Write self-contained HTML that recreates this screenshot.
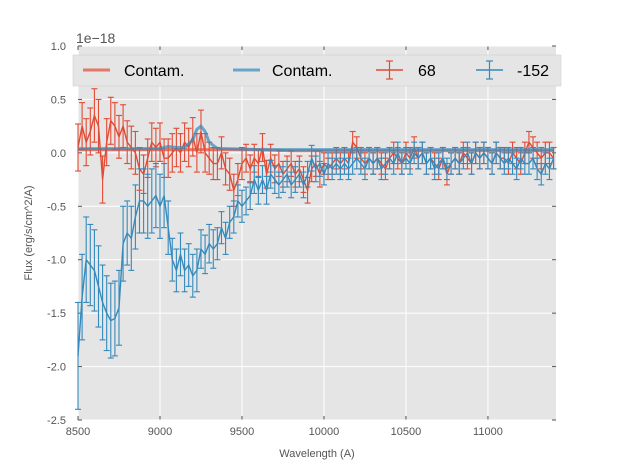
<!DOCTYPE html>
<html><head><meta charset="utf-8"><style>
body{margin:0;background:#fff;font-family:"Liberation Sans","DejaVu Sans",sans-serif}
</style></head><body>
<svg id="c" width="617" height="467" xmlns="http://www.w3.org/2000/svg" font-family="Liberation Sans, DejaVu Sans, sans-serif"></svg>
<script>
const blueVals=[-1.9,-1.35,-1.0,-1.05,-1.1,-1.25,-1.4,-1.5,-1.57,-1.55,-1.45,-0.85,-0.75,-0.8,-0.6,-0.45,-0.45,-0.5,-0.45,-0.4,-0.5,-0.4,-0.7,-1.0,-1.1,-0.95,-1.1,-1.05,-1.15,-1.1,-0.9,-0.95,-0.85,-0.9,-0.85,-0.7,-0.8,-0.65,-0.6,-0.45,-0.5,-0.45,-0.4,-0.25,-0.35,-0.25,-0.35,-0.2,-0.25,-0.3,-0.25,-0.2,-0.3,-0.25,-0.2,-0.3,-0.2,-0.05,-0.15,-0.1,-0.2,-0.1,-0.15,-0.1,-0.15,-0.1,-0.15,-0.1,-0.05,-0.1,-0.15,-0.05,-0.1,-0.05,-0.15,-0.1,-0.05,-0.1,0.0,-0.1,-0.05,-0.1,0.0,-0.05,0.0,-0.1,-0.05,-0.15,-0.1,-0.05,-0.15,-0.1,-0.05,-0.1,-0.05,0.0,-0.1,0.0,-0.05,0.0,-0.05,-0.1,0.0,-0.05,-0.1,-0.05,-0.1,-0.15,-0.05,-0.1,-0.1,-0.05,-0.15,-0.2,-0.1,-0.15,-0.05];
const blueErr=[0.5,0.4,0.4,0.38,0.38,0.38,0.35,0.35,0.35,0.35,0.35,0.35,0.3,0.3,0.3,0.3,0.3,0.3,0.3,0.3,0.3,0.3,0.25,0.2,0.2,0.2,0.2,0.2,0.2,0.2,0.18,0.18,0.18,0.18,0.15,0.15,0.15,0.15,0.15,0.15,0.15,0.13,0.13,0.13,0.13,0.13,0.13,0.13,0.13,0.12,0.12,0.12,0.12,0.12,0.12,0.12,0.12,0.12,0.12,0.12,0.1,0.1,0.1,0.1,0.1,0.1,0.1,0.1,0.1,0.1,0.1,0.1,0.1,0.1,0.1,0.1,0.1,0.1,0.1,0.1,0.1,0.1,0.1,0.1,0.1,0.1,0.1,0.1,0.1,0.1,0.1,0.1,0.1,0.1,0.1,0.1,0.1,0.1,0.1,0.1,0.1,0.1,0.1,0.1,0.1,0.1,0.1,0.1,0.1,0.1,0.1,0.1,0.1,0.1,0.1,0.1,0.1];
const redVals=[0.05,0.25,0.1,0.2,0.35,0.25,-0.25,0.1,0.3,0.25,0.15,0.25,0.1,0.05,0.0,-0.15,-0.2,-0.05,0.1,0.05,0.1,-0.05,-0.05,0.0,0.05,0.0,0.1,0.05,0.15,0.0,0.2,0.0,-0.05,-0.1,-0.1,0.0,-0.15,-0.2,-0.35,-0.25,-0.1,-0.05,-0.15,-0.05,-0.1,0.05,-0.2,-0.05,-0.15,-0.1,-0.2,-0.15,-0.1,-0.2,-0.15,-0.25,-0.35,-0.15,-0.1,-0.2,-0.1,-0.15,-0.1,-0.05,-0.1,-0.05,-0.1,0.1,0.05,-0.05,-0.1,-0.05,-0.1,-0.05,-0.1,-0.15,-0.05,0.0,-0.05,-0.1,0.0,-0.05,0.05,-0.05,0.0,-0.1,-0.05,-0.1,-0.15,-0.05,-0.2,-0.1,-0.05,-0.1,0.0,-0.05,-0.1,0.0,-0.05,0.0,-0.05,-0.1,0.0,-0.05,-0.05,-0.1,0.0,-0.05,-0.1,0.0,0.1,0.05,0.0,-0.05,0.0,0.0,-0.05];
const redErr=[0.22,0.22,0.22,0.22,0.25,0.25,0.22,0.22,0.22,0.22,0.2,0.2,0.2,0.2,0.2,0.2,0.18,0.18,0.18,0.18,0.18,0.18,0.18,0.18,0.18,0.18,0.18,0.18,0.18,0.18,0.2,0.18,0.15,0.15,0.15,0.15,0.15,0.15,0.15,0.15,0.15,0.13,0.13,0.13,0.13,0.13,0.13,0.13,0.13,0.12,0.12,0.12,0.12,0.12,0.12,0.12,0.12,0.12,0.12,0.12,0.1,0.1,0.1,0.1,0.1,0.1,0.1,0.1,0.1,0.1,0.1,0.1,0.1,0.1,0.1,0.1,0.1,0.1,0.1,0.1,0.1,0.1,0.1,0.1,0.1,0.1,0.1,0.1,0.1,0.1,0.1,0.1,0.1,0.1,0.1,0.1,0.1,0.1,0.1,0.1,0.1,0.1,0.1,0.1,0.1,0.1,0.1,0.1,0.1,0.1,0.1,0.1,0.1,0.1,0.1,0.1,0.1];
const contWave=[8500,8600,8700,8800,8900,9000,9050,9100,9150,9200,9225,9250,9275,9300,9350,9400,9600,9800,10000,10500,11000,11400];
const contRed=[0.03,0.03,0.03,0.03,0.03,0.03,0.03,0.03,0.03,0.03,0.03,0.03,0.03,0.03,0.03,0.03,0.03,0.02,0.02,0.02,0.02,0.02];
const contBlue=[0.04,0.04,0.04,0.04,0.04,0.04,0.06,0.05,0.05,0.12,0.22,0.25,0.2,0.1,0.04,0.04,0.03,0.03,0.03,0.03,0.03,0.03];
const xTicks=[8500,9000,9500,10000,10500,11000];
const yTicks=[1.0,0.5,0.0,-0.5,-1.0,-1.5,-2.0,-2.5];
const wave=blueVals.map((_,i)=>8500+25*i);
const L=78,R=556,T=46,B=420,X0=8500,X1=11415,Y0=-2.5,Y1=1.0;
const sx=v=>L+(v-X0)/(X1-X0)*(R-L), sy=v=>B-(v-Y0)/(Y1-Y0)*(B-T);
const svg=document.getElementById('c'),NS='http://www.w3.org/2000/svg';
function el(t,a,p){const e=document.createElementNS(NS,t);for(const k in a)e.setAttribute(k,a[k]);(p||svg).appendChild(e);return e;}
let e=el('rect',{x:L,y:T,width:R-L,height:B-T,fill:'#e5e5e5'});

xTicks.forEach(t=>{const x=sx(t);
 let g=el('line',{x1:x,x2:x,y1:T,y2:B,stroke:'#fff','stroke-width':1});
 
 el('line',{x1:x,x2:x,y1:B,y2:B-4,stroke:'#555'});el('line',{x1:x,x2:x,y1:T,y2:T+4,stroke:'#555'});
 let l=el('text',{x:x,y:B+15,'text-anchor':'middle','font-size':11,fill:'#555'});l.textContent=t;
 });
yTicks.forEach(t=>{const y=sy(t);
 let g=el('line',{x1:L,x2:R,y1:y,y2:y,stroke:'#fff','stroke-width':1});
 
 el('line',{x1:L,x2:L+4,y1:y,y2:y,stroke:'#555'});el('line',{x1:R,x2:R-4,y1:y,y2:y,stroke:'#555'});
 let l=el('text',{x:L-12,y:y+4,'text-anchor':'end','font-size':11,fill:'#555'});l.textContent=t.toFixed(1);
 });
function series(vals,errs,col,name){
 const g=el('g',{});
 vals.forEach((v,i)=>{const x=sx(wave[i]),a=sy(v+errs[i]),b=sy(v-errs[i]);
  el('line',{x1:x,x2:x,y1:a,y2:b,stroke:col,'stroke-width':1.1},g);
  el('line',{x1:x-3,x2:x+3,y1:a,y2:a,stroke:col,'stroke-width':1.1},g);
  el('line',{x1:x-3,x2:x+3,y1:b,y2:b,stroke:col,'stroke-width':1.1},g);});
 el('polyline',{points:vals.map((v,i)=>sx(wave[i])+','+sy(v)).join(' '),fill:'none',stroke:col,'stroke-width':1.4},g);}
function line(vals,col,name){let p=el('polyline',{points:vals.map((v,i)=>sx(contWave[i])+','+sy(v)).join(' '),fill:'none',stroke:col,'stroke-width':3,opacity:0.7});
 }
series(redVals,redErr,'#e24a33','series-68');
series(blueVals,blueErr,'#348abd','series-minus152');
line(contRed,'#e24a33','contam-red-line');
line(contBlue,'#348abd','contam-blue-line');
const lg=el('g',{});
el('rect',{x:73,y:55,width:488,height:31,fill:'#e5e5e5',stroke:'#ccc','stroke-width':0.5},lg);
function lt(x,s){let t=el('text',{x:x,y:76,'font-size':16,fill:'#000'},lg);t.textContent=s;}
el('line',{x1:83,x2:110,y1:70,y2:70,stroke:'#e24a33','stroke-width':3,opacity:0.7},lg);lt(124,'Contam.');
el('line',{x1:233,x2:260,y1:70,y2:70,stroke:'#348abd','stroke-width':3,opacity:0.7},lg);lt(272,'Contam.');
[[376,'#e24a33','68',418],[476,'#348abd','-152',517]].forEach(([x,c,s,tx])=>{
 el('line',{x1:x,x2:x+27,y1:70,y2:70,stroke:c,'stroke-width':1.5},lg);
 el('line',{x1:x+13.5,x2:x+13.5,y1:61,y2:79,stroke:c,'stroke-width':1.2},lg);
 el('line',{x1:x+10,x2:x+17,y1:61,y2:61,stroke:c,'stroke-width':1.2},lg);
 el('line',{x1:x+10,x2:x+17,y1:79,y2:79,stroke:c,'stroke-width':1.2},lg);lt(tx,s);});
let t=el('text',{x:76,y:43,'font-size':14,fill:'#555'});t.textContent='1e\u221218';

t=el('text',{x:317,y:457,'text-anchor':'middle','font-size':11,fill:'#555'});t.textContent='Wavelength (A)';

t=el('text',{x:0,y:0,'text-anchor':'middle','font-size':11,fill:'#555',transform:'translate(32,233) rotate(-90)'});t.textContent='Flux (erg/s/cm^2/A)';

</script>
</body></html>
